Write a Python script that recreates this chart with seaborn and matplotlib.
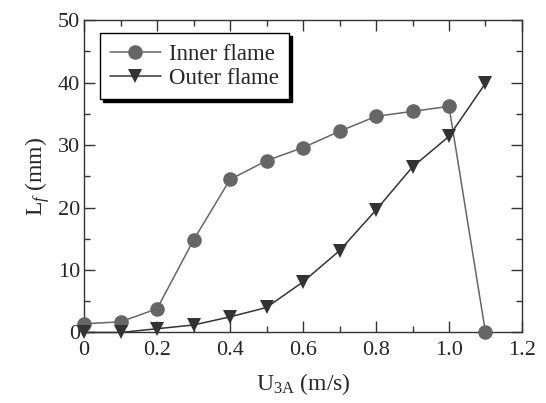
import matplotlib
matplotlib.use("Agg")
import matplotlib.pyplot as plt
import seaborn as sns
import pandas as pd
from matplotlib.ticker import MultipleLocator, FuncFormatter

# Air velocity U3A (m/s)
u3a = [0.0, 0.1, 0.2, 0.3, 0.4, 0.5, 0.6, 0.7, 0.8, 0.9, 1.0, 1.1]
# Flame lengths (mm)
inner_flame = [1.4, 1.7, 3.8, 14.8, 24.5, 27.5, 29.6, 32.2, 34.6, 35.4, 36.2, 0.0]
outer_flame = [0.0, 0.0, 0.6, 1.2, 2.5, 4.0, 8.1, 13.1, 19.6, 26.5, 31.4, 39.9]

series_names = ["Inner flame", "Outer flame"]

df = pd.concat([
    pd.DataFrame({"U": u3a, "Lf": inner_flame, "flame": series_names[0]}),
    pd.DataFrame({"U": u3a, "Lf": outer_flame, "flame": series_names[1]}),
])

sns.set_style("ticks")
plt.rcParams["font.family"] = ["Liberation Serif", "DejaVu Serif"]
plt.rcParams["mathtext.fontset"] = "custom"
plt.rcParams["mathtext.rm"] = "Liberation Serif"
plt.rcParams["mathtext.it"] = "Liberation Serif:italic"

fig = plt.figure(figsize=(5.46, 4.03), dpi=100)
ax = fig.add_axes([0.154, 0.175, 0.802, 0.775])

sns.lineplot(data=df, x="U", y="Lf", hue="flame", style="flame",
             palette={"Inner flame": "#666666", "Outer flame": "#333333"},
             markers={"Inner flame": "o", "Outer flame": "v"},
             dashes=False, markersize=10.5, linewidth=1.1,
             markeredgewidth=0, ax=ax, legend=True, clip_on=False, zorder=3)

ax.set_xlim(0, 1.2)
ax.set_ylim(0, 50)
ax.xaxis.set_major_locator(MultipleLocator(0.2))
ax.xaxis.set_minor_locator(MultipleLocator(0.1))
ax.yaxis.set_major_locator(MultipleLocator(10))
ax.yaxis.set_minor_locator(MultipleLocator(5))
ax.xaxis.set_major_formatter(FuncFormatter(lambda v, p: "0" if abs(v) < 1e-9 else f"{v:.1f}"))
ax.yaxis.set_major_formatter(FuncFormatter(lambda v, p: f"{v:.0f}"))
ax.tick_params(which="both", direction="in", top=True, right=True,
               labelsize=16, color="#333333", width=1)
ax.tick_params(which="major", length=8)
ax.tick_params(axis="x", which="major", pad=6)
ax.tick_params(axis="y", which="major", pad=3)
ax.tick_params(which="minor", length=4)
for sp in ax.spines.values():
    sp.set_color("#333333")
    sp.set_linewidth(1)
    sp.set_visible(True)

ax.set_xlabel(r"U$_{\mathregular{3A}}$ (m/s)", fontsize=17, labelpad=8)
ax.set_ylabel(r"L$_{f}$ (mm)", fontsize=17, labelpad=4)

leg = ax.legend(loc="upper left", bbox_to_anchor=(0.036, 0.958),
                fontsize=16.5, frameon=True, fancybox=False,
                shadow={"color": "black", "alpha": 1.0},
                handlelength=2.2, borderpad=0.45, labelspacing=0.15,
                handletextpad=0.35, borderaxespad=0)
leg.get_frame().set_edgecolor("black")
leg.get_frame().set_linewidth(1)
leg.get_frame().set_alpha(1)
leg.set_title(None)

fig.savefig("out.png", dpi=100)
